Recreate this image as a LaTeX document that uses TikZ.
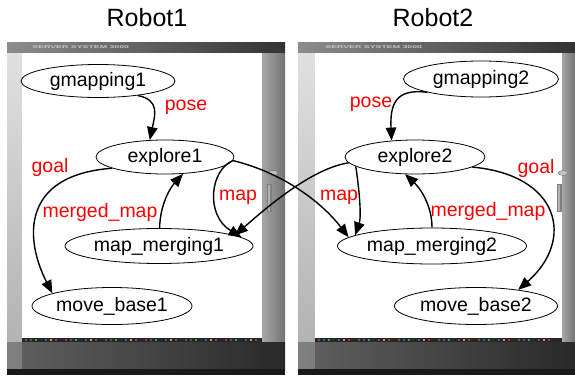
\documentclass[tikz,border=0pt]{standalone}
\usepackage{fontspec}
\setmainfont{Liberation Sans}
\usetikzlibrary{shapes.geometric,arrows.meta}

\definecolor{leda}{HTML}{A83A3A}
\definecolor{ledb}{HTML}{3A55A8}
\definecolor{ledc}{HTML}{3E9A48}
\definecolor{ledd}{HTML}{B8A448}
\definecolor{ledoff}{HTML}{2A2A2A}

\tikzset{
  rosnode/.style={draw=black, line width=0.8pt, ellipse, inner sep=0pt,
    font=\fontsize{19.5}{21}\selectfont},
  topic/.style={text=red, font=\fontsize{19.5}{21}\selectfont, inner sep=0pt},
  link/.style={line width=1.4pt, -{Triangle[length=13pt,width=10.5pt]}},
  robottitle/.style={font=\fontsize{25}{27}\selectfont, inner sep=0pt},
  badge/.style={font=\fontsize{4}{4}\selectfont\bfseries, text=black!22,
    xscale=2.2, inner sep=0pt, anchor=west},
}

% server cabinet: outer left, white left, white right, outer right, name
\newcommand\rackpanel[5]{%
  \shade[left color=black!45, right color=black!80] (#1,42) rectangle (#4,53);
  \node[badge] (badge#5) at (#2+10,47.5) {SERVER SYSTEM 3000};
  \shade[top color=black!12, bottom color=black!30] (#1,53) rectangle (#2,342);
  \shade[left color=black!35, right color=black!55] (#3,53) rectangle (#4,342);
  \fill[white] (#2,53) rectangle (#3,338);
  \fill[black!85] (#2,338) rectangle (#3,342);
  \foreach \i in {0,...,46}{%
    \pgfmathtruncatemacro\k{mod(\i,8)}%
    \ifcase\k \def\cc{leda}\or \def\cc{ledb}\or \def\cc{ledc}\or \def\cc{ledoff}%
    \or \def\cc{ledb}\or \def\cc{ledd}\or \def\cc{leda}\else \def\cc{ledoff}\fi
    \fill[\cc] (#2+3+\i*5,339) rectangle ++(2,2);
  }
  \shade[left color=black!62, right color=black!84] (#1,342) rectangle (#4,369);
  \fill[black!12, opacity=0.25] (#1,342) rectangle (#2,369);
  \fill[black!90] (#1,369) rectangle (#4,375);
  \filldraw[fill=black!25, draw=black!55, line width=0.4pt] (#4-12,173) ellipse (5 and 2.5);
  \fill[black!50] (#4-18,184) rectangle (#4-13,212);
  \fill[black!30] (#4-17,185) rectangle (#4-15,211);
}

\begin{document}
\begin{tikzpicture}[x=1pt,y=-1pt]
\useasboundingbox (0,0) rectangle (575,375);

% cabinets
\rackpanel{7}{22}{262}{285}{one}
\rackpanel{298}{315}{562}{575}{two}

% titles
\node[robottitle] (t1) at (147,17.5) {Robot1};
\node[robottitle] (t2) at (433,17.5) {Robot2};

% robot 1 nodes
\node[rosnode, minimum width=154pt, minimum height=33pt] (g1) at (98,81) {gmapping1};
\node[rosnode, minimum width=138pt, minimum height=34pt] (e1) at (165,157) {explore1};
\node[rosnode, minimum width=188pt, minimum height=35pt] (m1) at (159,246) {map\_merging1};
\node[rosnode, minimum width=160pt, minimum height=37pt] (mb1) at (112,306) {move\_base1};

% robot 2 nodes
\node[rosnode, minimum width=155pt, minimum height=36pt] (g2) at (481,79) {gmapping2};
\node[rosnode, minimum width=140pt, minimum height=34pt] (e2) at (415,157) {explore2};
\node[rosnode, minimum width=189pt, minimum height=36pt] (mm2) at (432,246) {map\_merging2};
\node[rosnode, minimum width=163pt, minimum height=37pt] (mb2) at (476,306) {move\_base2};

% robot 1 connectors
\draw[link] (g1.-20) .. controls (160,100) and (155,115) .. (e1.132);
\draw[link] (e1.192) .. controls (20,175) and (25,240) .. (mb1.168);
\draw[link] (m1.88) .. controls (160,205) and (170,188) .. (e1.-43);
\draw[link] (e1.-3) .. controls (210,170) and (205,215) .. (m1.6);
\draw[link] (e1.-3) .. controls (280,172) and (320,200) .. (mm2.174);

% robot 2 connectors
\draw[link] (g2.194) .. controls (395,88) and (390,105) .. (e2.145);
\draw[link] (e2.-10) .. controls (560,175) and (575,240) .. (mb2.21);
\draw[link] (mm2.90) .. controls (432,205) and (420,188) .. (e2.-120);
\draw[link] (e2.189) .. controls (358,180) and (362,215) .. (mm2.172);
\draw[link] (e2.185) .. controls (315,168) and (275,200) .. (m1.8);

% topic labels
\node[topic] (lp1) at (186,107.5) {pose};
\node[topic] (lg1) at (50,167.5) {goal};
\node[topic] (lmm1) at (100,212.5) {merged\_map};
\node[topic] (lm1) at (238,197) {map};
\node[topic] (lp2) at (371,104.5) {pose};
\node[topic] (lg2) at (536,168) {goal};
\node[topic] (lm2) at (339,197) {map};
\node[topic] (lmm2) at (488,211) {merged\_map};
\end{tikzpicture}
\end{document}
